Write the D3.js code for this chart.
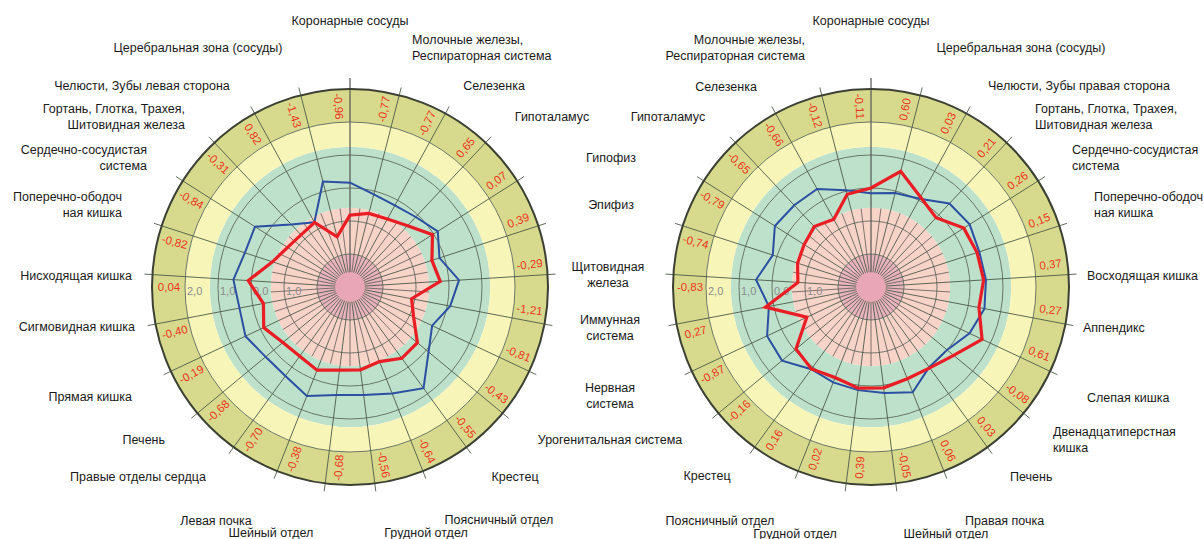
<!DOCTYPE html>
<html>
<head>
<meta charset="utf-8">
<script src="https://cdn.jsdelivr.net/npm/d3@7"></script>
<style>
  body { margin: 0; background: #fff; }
  text { font-family: "Liberation Sans", Arial, sans-serif; }
</style>
</head>
<body>
<svg id="chart" width="1204" height="539"></svg>
<script>
// axis names, clockwise from the top
const leftAxes = ['Коронарные сосуды', 'Молочные железы,|Респираторная система', 'Селезенка', 'Гипоталамус',
  'Гипофиз', 'Эпифиз', 'Щитовидная|железа', 'Иммунная|система', 'Нервная|система', 'Урогенитальная система',
  'Крестец', 'Поясничный отдел', 'Грудной отдел', 'Шейный отдел', 'Левая почка', 'Правые отделы сердца',
  'Печень', 'Прямая кишка', 'Сигмовидная кишка', 'Нисходящая кишка', 'Поперечно-ободоч|ная кишка',
  'Сердечно-сосудистая|система', 'Гортань, Глотка, Трахея,|Шитовидная железа', 'Челюсти, Зубы левая сторона',
  'Церебральная зона (сосуды)'];
const rightAxes = ['Коронарные сосуды', 'Церебральная зона (сосуды)', 'Челюсти, Зубы правая сторона',
  'Гортань, Глотка, Трахея,|Шитовидная железа', 'Сердечно-сосудистая|система', 'Поперечно-ободоч|ная кишка',
  'Восходящая кишка', 'Аппендикс', 'Слепая кишка', 'Двенадцатиперстная|кишка', 'Печень', 'Правая почка',
  'Шейный отдел', 'Грудной отдел', 'Поясничный отдел', 'Крестец', 'Урогенитальная система', 'Нервная|система',
  'Иммунная|система', 'Щитовидная|железа', 'Эпифиз', 'Гипофиз', 'Гипоталамус', 'Селезенка',
  'Молочные железы,|Респираторная система'];

// series values
const leftBlue = [0.16, -0.1, -0.18, -0.09, 0.15, -0.15, 0.31, 0.09, -0.25, 0.09, 0.79, 0.47, 0.3, 0.3, 0.55,
  0.33, 0.32, 0.5, 0.41, 0.54, 0.35, 0.41, -0.4, -0.76, 0.3];
const leftRed = [-0.82, -0.7, -0.65, -0.45, -0.04, -0.39, -0.26, -1.1, -0.87, -0.35, -0.33, -0.57, -0.47, -0.46,
  -0.29, -0.41, -0.36, -0.11, -0.33, 0.09, -0.53, -0.76, -0.83, -0.77, -1.43];
const rightBlue = [-0.16, -0.06, 0.05, 0.47, 0.54, 0.45, 0.49, 0.5, 0.3, -0.01, 0.0, 0.43, 0.24, 0.15, 0.11,
  0.08, 0.5, 0.48, 0.15, 0.49, 0.13, 0.45, 0.4, 0.39, 0.03];
const rightRed = [0.0, 0.62, 0.11, -0.12, 0.33, 0.38, 0.42, 0.33, 0.72, 0.25, 0.03, -0.01, 0.08, 0.09, -0.05,
  0.07, -0.05, -0.85, 0.26, -0.78, -0.66, -0.6, -0.49, -0.66, -0.1];

// numbers written in the outer ring
const leftRing = ['-0,96', '-0,77', '-0,77', '0,65', '0,07', '0,39', '-0,29', '-1,21', '-0,81', '-0,43', '-0,55',
  '-0,64', '-0,56', '-0,68', '-0,38', '-0,70', '-0,68', '-0,19', '-0,40', '0,04', '-0,82', '-0,84', '-0,31',
  '0,82', '-1,43'];
const rightRing = ['-0,11', '0,60', '0,03', '0,21', '0,26', '0,15', '0,37', '0,27', '0,61', '-0,08', '0,03',
  '0,06', '-0,05', '0,39', '0,02', '0,16', '-0,16', '-0,87', '0,27', '-0,83', '-0,74', '-0,79', '-0,65',
  '-0,66', '-0,12'];

// radial tick labels
const tickValues = [2, 1, 0, -1];
const tickLabels = ['2,0', '1,0', '0,0', '1,0'];

// label placement: [x, y, anchor]; null = label shared with the other chart
const leftLabelPos = [[350, 20, 'middle'], [412, 39, 'start'], [494, 85, 'middle'], [552, 116, 'middle'],
  [611, 157, 'middle'], [611, 204, 'middle'], [608, 266, 'middle'], [610, 319, 'middle'], [610, 387, 'middle'],
  [610, 439, 'middle'], [515, 476, 'middle'], [499, 519, 'middle'], [426, 532, 'middle'], [271, 532, 'middle'],
  [216, 520, 'middle'], [138, 476, 'middle'], [165, 439, 'end'], [132, 396, 'end'], [135, 326, 'end'],
  [132, 275, 'end'], [122, 196, 'end'], [147, 149, 'end'], [185, 108, 'end'], [142, 85, 'middle'],
  [198, 47, 'middle']];
const rightLabelPos = [[871, 20, 'middle'], [1021, 47, 'middle'], [1079, 85, 'middle'], [1035, 108, 'start'],
  [1072, 149, 'start'], [1094, 196, 'start'], [1087, 275, 'start'], [1083, 327, 'start'], [1087, 397, 'start'],
  [1053, 431, 'start'], [1010, 476, 'start'], [965, 520, 'start'], [946, 533, 'middle'], [795, 533, 'middle'],
  [720, 520, 'middle'], [707, 475, 'middle'], null, null, null, null, null, null, [668, 116, 'middle'],
  [726, 86, 'middle'], [805, 39, 'end']];

const bands = [
  { from: -3, to: -2, color: '#e7b3bd' },
  { from: -2, to: -0.6, color: '#f8d3c7' },
  { from: -0.6, to: 1.25, color: '#bde1ca' },
  { from: 1.25, to: 2, color: '#f8f5b9' },
  { from: 2, to: 3, color: '#d7da8c' }
];

const R = 198;
const n = leftAxes.length;
const svg = d3.select('#chart');

const r = d3.scaleLinear().domain([-3, 3]).range([0, R]);
const angle = d3.scaleLinear().domain([0, n]).range([0, 2 * Math.PI]);
const px = (a, rr) => rr * Math.sin(a);
const py = (a, rr) => -rr * Math.cos(a);

function drawRadar(cx, cy, axes, blue, red, ring, labelPos) {
  const g = svg.append('g').attr('transform', `translate(${cx},${cy})`);

  // coloured bands
  bands.forEach(b => {
    g.append('path')
      .attr('d', d3.arc()({ innerRadius: r(b.from), outerRadius: r(b.to), startAngle: 0, endAngle: 2 * Math.PI }))
      .attr('fill', b.color);
  });
  g.append('circle').attr('r', r(-2.55)).attr('fill', '#e9a6b6');

  // grid circles
  [-2, -1, 0, 1, 2].forEach(v => {
    g.append('circle').attr('r', r(v))
      .attr('fill', 'none').attr('stroke', '#5f6b5c').attr('stroke-width', 0.9);
  });

  // minor spokes in the inner area
  d3.range(n).forEach(i => {
    const a = angle(i + 0.5);
    g.append('line')
      .attr('x1', px(a, r(-2.55))).attr('y1', py(a, r(-2.55)))
      .attr('x2', px(a, r(-0.6))).attr('y2', py(a, r(-0.6)))
      .attr('stroke', '#5f5a55').attr('stroke-width', 0.8);
  });

  // main spokes, with ticks outside the rim
  d3.range(n).forEach(i => {
    const a = angle(i);
    const outer = i === 0 ? R + 11 : R + 8;
    g.append('line')
      .attr('x1', px(a, r(-2.55))).attr('y1', py(a, r(-2.55)))
      .attr('x2', px(a, outer)).attr('y2', py(a, outer))
      .attr('stroke', i === 0 ? '#555' : '#4d5a4a').attr('stroke-width', i === 0 ? 1.2 : 0.9);
  });

  // outer rim
  g.append('circle').attr('r', R)
    .attr('fill', 'none').attr('stroke', '#3b4033').attr('stroke-width', 2);

  // ring numbers
  ring.forEach((t, i) => {
    const a = angle(i - 0.25);
    const deg = (a * 180 / Math.PI + 360) % 360;
    const rot = deg <= 180 ? deg - 90 : deg + 90;
    g.append('text')
      .attr('transform', `translate(${px(a, 181)},${py(a, 181)}) rotate(${rot})`)
      .attr('text-anchor', 'middle')
      .attr('dominant-baseline', 'central')
      .attr('font-size', '11.5px')
      .attr('fill', '#ee3522')
      .text(t);
  });

  // radial tick labels
  tickValues.forEach((v, i) => {
    g.append('text')
      .attr('x', -r(v) + 2).attr('y', 4)
      .attr('text-anchor', 'start')
      .attr('dominant-baseline', 'central')
      .attr('font-size', '11px')
      .attr('fill', '#8c8c8c')
      .text(tickLabels[i]);
  });

  const line = d3.lineRadial()
    .angle((d, i) => angle(i))
    .radius(d => r(d))
    .curve(d3.curveLinearClosed);

  g.append('path').datum(blue).attr('d', line)
    .attr('fill', 'none').attr('stroke', '#2b4fa3').attr('stroke-width', 2);
  g.append('path').datum(red).attr('d', line)
    .attr('fill', 'none').attr('stroke', '#ea1c24').attr('stroke-width', 3.2);

  // axis labels
  axes.forEach((name, i) => {
    const p = labelPos[i];
    if (!p) return;
    const t = svg.append('text')
      .attr('x', p[0]).attr('y', p[1])
      .attr('text-anchor', p[2])
      .attr('font-size', '12.5px')
      .attr('fill', '#1a1a1a');
    name.split('|').forEach((s, j) => {
      t.append('tspan').attr('x', p[0]).attr('dy', j === 0 ? 4.5 : 16).text(s);
    });
  });
}

drawRadar(350, 287, leftAxes, leftBlue, leftRed, leftRing, leftLabelPos);
drawRadar(871, 287, rightAxes, rightBlue, rightRed, rightRing, rightLabelPos);
</script>
</body>
</html>
